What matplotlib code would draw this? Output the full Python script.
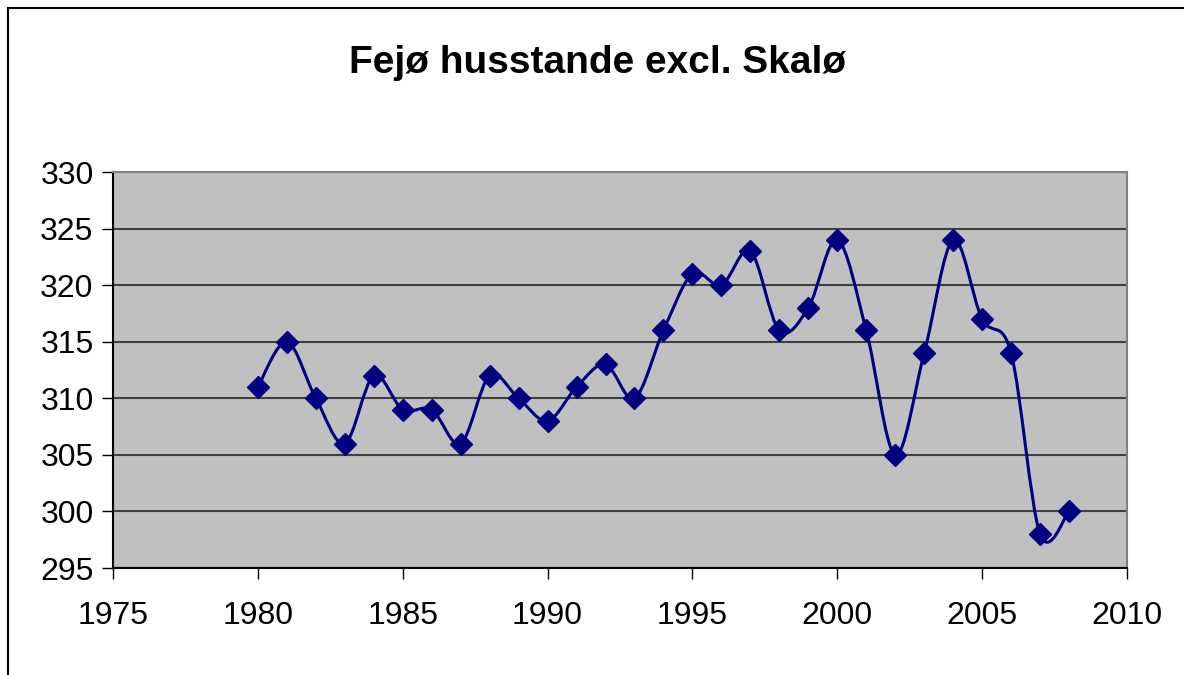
import matplotlib.pyplot as plt
import numpy as np
from matplotlib.path import Path
from matplotlib.patches import PathPatch, Rectangle

plt.rcParams['font.family'] = ['Liberation Sans', 'DejaVu Sans']

years = [1980, 1981, 1982, 1983, 1984, 1985, 1986, 1987, 1988, 1989,
         1990, 1991, 1992, 1993, 1994, 1995, 1996, 1997, 1998, 1999,
         2000, 2001, 2002, 2003, 2004, 2005, 2006, 2007, 2008]
households = [311, 315, 310, 306, 312, 309, 309, 306, 312, 310,
              308, 311, 313, 310, 316, 321, 320, 323, 316, 318,
              324, 316, 305, 314, 324, 317, 314, 298, 300]
x_ticks = [1975, 1980, 1985, 1990, 1995, 2000, 2005, 2010]
y_ticks = [295, 300, 305, 310, 315, 320, 325, 330]

color = '#000080'


def smooth_path(x, y):
    # Excel-like smoothed line: cubic bezier, control points from neighbours / 6
    x = np.asarray(x, float)
    y = np.asarray(y, float)
    n = len(x)
    verts = [(x[0], y[0])]
    codes = [Path.MOVETO]
    for i in range(n - 1):
        p0 = np.array([x[max(i - 1, 0)], y[max(i - 1, 0)]])
        p1 = np.array([x[i], y[i]])
        p2 = np.array([x[i + 1], y[i + 1]])
        p3 = np.array([x[min(i + 2, n - 1)], y[min(i + 2, n - 1)]])
        c1 = p1 + (p2 - p0) / 6
        c2 = p2 - (p3 - p1) / 6
        verts += [tuple(c1), tuple(c2), tuple(p2)]
        codes += [Path.CURVE4] * 3
    return Path(verts, codes)


fig = plt.figure(figsize=(11.84, 6.75), dpi=100)
ax = fig.add_axes([113 / 1184, 1 - 568 / 675, (1127 - 113) / 1184, (568 - 172) / 675])

# outer chart frame (cropped at right and bottom in the original)
fig.patches.append(Rectangle((8 / 1184, -0.05), 1.2, 1 - 8 / 675 + 0.05,
                             transform=fig.transFigure, fill=False,
                             edgecolor='black', linewidth=1.5))

ax.set_facecolor('#c0c0c0')
ax.add_patch(PathPatch(smooth_path(years, households), fill=False,
                       edgecolor=color, linewidth=2.2, zorder=3))
ax.plot(years, households, linestyle='none', marker='D', markersize=11,
        color=color, zorder=4)

ax.set_xlim(1975, 2010)
ax.set_ylim(295, 330)
ax.set_xticks(x_ticks)
ax.set_yticks(y_ticks)
ax.grid(axis='y', color='#404040', linewidth=1.5)
ax.set_axisbelow(True)
for side in ax.spines.values():
    side.set_color('#808080')
    side.set_linewidth(1.5)
ax.spines['left'].set_color('black')
ax.spines['bottom'].set_color('black')
ax.tick_params(direction='out', length=8, width=1, labelsize=23)
ax.tick_params(axis='x', pad=16)
ax.tick_params(axis='y', pad=6)

fig.text(598 / 1184, 1 - 63 / 675, 'Fejø husstande excl. Skalø',
         ha='center', va='center', fontsize=28, fontweight='bold')

fig.savefig('out.png', dpi=100)
